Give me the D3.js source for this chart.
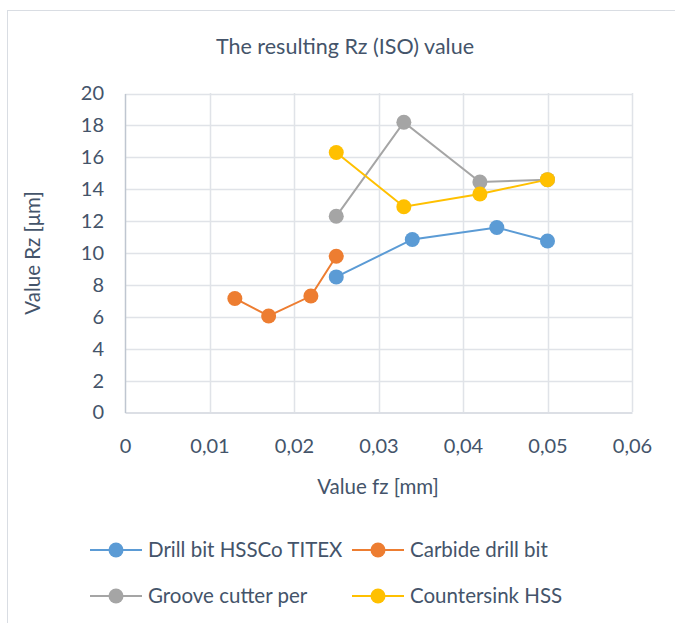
<!DOCTYPE html>
<html><head><meta charset="utf-8">
<script src="https://cdn.jsdelivr.net/npm/d3@7"></script>
<style>body{margin:0;background:#fff}text{font-family:Lato,"Open Sans",sans-serif;fill:#44546a}</style>
</head><body><svg id="c" width="675" height="623"></svg>
<script>
const seriesNames = ["Drill bit HSSCo TITEX","Carbide drill bit","Groove cutter per","Countersink HSS"];
const seriesColors = ["#5b9bd5","#ed7d31","#a5a5a5","#ffc000"];
const drillFz = [0.025,0.034,0.044,0.05];
const drillRz = [8.5,10.85,11.6,10.75];
const carbideFz = [0.013,0.017,0.022,0.025];
const carbideRz = [7.15,6.05,7.3,9.8];
const grooveFz = [0.025,0.033,0.042,0.05];
const grooveRz = [12.3,18.2,14.45,14.6];
const counterFz = [0.025,0.033,0.042,0.05];
const counterRz = [16.3,12.9,13.7,14.6];
const xTicks = [0,0.01,0.02,0.03,0.04,0.05,0.06];
const yTicks = [0,2,4,6,8,10,12,14,16,18,20];
const title = "The resulting Rz (ISO) value";
const xTitle = "Value fz [mm]";
const yTitle = "Value Rz [μm]";

const series = [[drillFz,drillRz],[carbideFz,carbideRz],[grooveFz,grooveRz],[counterFz,counterRz]]
  .map((s,i)=>({name:seriesNames[i],color:seriesColors[i],pts:s[0].map((x,j)=>({x,y:s[1][j]}))}));

const txt = "#44546a";
const svg = d3.select("#c");
svg.append("rect").attr("x",7.5).attr("y",10.5).attr("width",700).attr("height",700)
  .attr("fill","#fff").attr("stroke","#d9dde3");

const x = d3.scaleLinear().domain([0,0.06]).range([125,632]);
const y = d3.scaleLinear().domain([0,20]).range([412.5,93.5]);
const fmt = d => String(+d.toFixed(2)).replace(".",",");

// grid
svg.append("g").selectAll("line").data(yTicks.slice(1)).join("line")
  .attr("x1",125).attr("x2",632).attr("y1",d=>Math.round(y(d))+0.5).attr("y2",d=>Math.round(y(d))+0.5)
  .attr("stroke","#e0e3e8").attr("stroke-width",1.5);
svg.append("g").selectAll("line").data(xTicks.slice(1)).join("line")
  .attr("y1",93).attr("y2",412).attr("x1",d=>Math.round(x(d))+0.5).attr("x2",d=>Math.round(x(d))+0.5)
  .attr("stroke","#e0e3e8").attr("stroke-width",1.5);

// axes
const xAxis = svg.append("g").attr("transform","translate(0,"+y(0)+")")
  .call(d3.axisBottom(x).tickValues(xTicks).tickFormat(fmt).tickSize(0).tickPadding(26));
xAxis.select(".domain").attr("stroke","#d0d5dc").attr("stroke-width",1.5);
xAxis.selectAll("text").attr("font-size",20).style("fill",txt).style("font-family","Lato");
const yAxis = svg.append("g").attr("transform","translate("+x(0)+",0)")
  .call(d3.axisLeft(y).tickValues(yTicks).tickSize(0).tickPadding(21));
yAxis.select(".domain").attr("stroke","#bfc6d0").attr("stroke-width",1.5);
yAxis.selectAll("text").attr("font-size",20).style("fill",txt).style("font-family","Lato");

// lines & points
const line = d3.line().x(d=>x(d.x)).y(d=>y(d.y));
series.forEach(s=>{
  svg.append("path").attr("d",line(s.pts)).attr("fill","none").attr("stroke",s.color).attr("stroke-width",2);
  svg.append("g").selectAll("circle").data(s.pts).join("circle")
    .attr("cx",d=>x(d.x)).attr("cy",d=>y(d.y)).attr("r",7.5).attr("fill",s.color);
});

// titles
svg.append("text").attr("x",345).attr("y",54).attr("text-anchor","middle").attr("font-size",21.5).text(title);
svg.append("text").attr("x",378).attr("y",494).attr("text-anchor","middle").attr("font-size",20.5).text(xTitle);
svg.append("text").attr("transform","translate(40,253) rotate(-90)").attr("text-anchor","middle").attr("font-size",20.5).text(yTitle);

// legend
const legPos = [[90,550],[352,550],[90,596],[352,596]];
series.forEach((s,i)=>{
  const [lx,ly] = legPos[i];
  const g = svg.append("g").attr("transform","translate("+lx+","+ly+")");
  g.append("line").attr("x1",0).attr("x2",52).attr("stroke",s.color).attr("stroke-width",2);
  g.append("circle").attr("cx",26).attr("r",7.5).attr("fill",s.color);
  g.append("text").attr("x",58).attr("y",7).attr("font-size",20.5).text(s.name);
});
</script></body></html>
